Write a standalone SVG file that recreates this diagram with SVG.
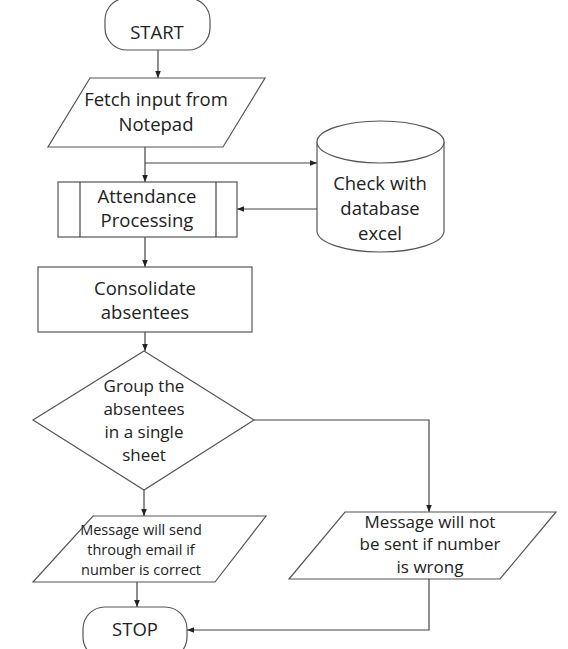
<svg xmlns="http://www.w3.org/2000/svg" width="568" height="649" viewBox="0 0 568 649">
<defs>
<style>
.s{fill:#fff;stroke:#555;stroke-width:1.2}
.c{fill:none;stroke:#444;stroke-width:1.2}
text{font-family:"Open Sans","Liberation Sans",sans-serif;fill:#222;text-anchor:middle}
.b{font-size:18.5px}
.d{font-size:17px}
.m{font-size:14.5px}
</style>
<marker id="a" viewBox="0 0 10 10" refX="10" refY="5" markerWidth="7" markerHeight="7" orient="auto" markerUnits="userSpaceOnUse">
<path d="M0,1 L10,5 L0,9 z" fill="#222"/>
</marker>
</defs>
<rect width="568" height="649" fill="#fff"/>
<g id="connectors">
<path class="c" d="M158,50 V78" marker-end="url(#a)"/>
<path class="c" d="M145,147 V182" marker-end="url(#a)"/>
<path class="c" d="M145,163 H317" marker-end="url(#a)"/>
<path class="c" d="M317,209 H237" marker-end="url(#a)"/>
<path class="c" d="M145,237 V267" marker-end="url(#a)"/>
<path class="c" d="M145,332 V351" marker-end="url(#a)"/>
<path class="c" d="M254,420 H429 V512" marker-end="url(#a)"/>
<path class="c" d="M144,490 V516" marker-end="url(#a)"/>
<path class="c" d="M137,582 V607" marker-end="url(#a)"/>
<path class="c" d="M429,579 V630 H187" marker-end="url(#a)"/>
</g>
<g id="start">
<rect class="s" x="105" y="-2" width="105" height="52" rx="22"/>
<text class="b" x="157" y="39">START</text>
</g>
<g id="fetch">
<polygon class="s" points="90,78 265,78 223,147 48,147"/>
<text class="b" x="156" y="106">Fetch input from</text>
<text class="b" x="156" y="131">Notepad</text>
</g>
<g id="attendance">
<rect class="s" x="58" y="182" width="179" height="55"/>
<line class="c" x1="80" y1="182" x2="80" y2="237"/>
<line class="c" x1="216" y1="182" x2="216" y2="237"/>
<text class="b" x="147" y="203">Attendance</text>
<text class="b" x="147" y="227">Processing</text>
</g>
<g id="database">
<path class="s" d="M317,142 V231 A63.5,21 0 0 0 444,231 V142"/>
<ellipse class="s" cx="380.5" cy="142" rx="63.5" ry="21"/>
<text class="b" x="380" y="190">Check with</text>
<text class="b" x="380" y="215">database</text>
<text class="b" x="380" y="240">excel</text>
</g>
<g id="consolidate">
<rect class="s" x="38" y="267" width="214" height="65"/>
<text class="b" x="145" y="295">Consolidate</text>
<text class="b" x="145" y="319">absentees</text>
</g>
<g id="group">
<polygon class="s" points="144,351 254,420 144,490 33,420"/>
<text class="d" x="144" y="392">Group the</text>
<text class="d" x="144" y="415">absentees</text>
<text class="d" x="144" y="438">in a single</text>
<text class="d" x="144" y="461">sheet</text>
</g>
<g id="send">
<polygon class="s" points="93,516 266,516 215,582 33,582"/>
<text class="m" x="141" y="535">Message will send</text>
<text class="m" x="141" y="555">through email if</text>
<text class="m" x="141" y="575">number is correct</text>
</g>
<g id="notsent">
<polygon class="s" points="345,512 556,512 500,579 289,579"/>
<text class="d" x="430" y="528">Message will not</text>
<text class="d" x="430" y="550">be sent if number</text>
<text class="d" x="430" y="573">is wrong</text>
</g>
<g id="stop">
<rect class="s" x="83" y="607" width="104" height="52" rx="22"/>
<text class="b" x="135" y="636">STOP</text>
</g>
</svg>
